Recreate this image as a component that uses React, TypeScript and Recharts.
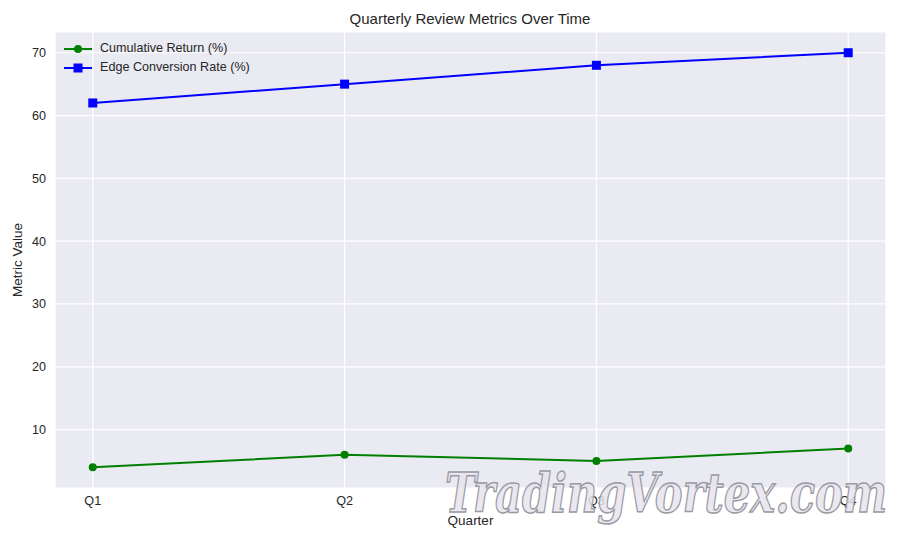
import React from 'react';
import { LineChart, Line, XAxis, YAxis, CartesianGrid } from 'recharts';

const quarters = ['Q1', 'Q2', 'Q3', 'Q4'];
const cumulativeReturn = [4, 6, 5, 7];
const edgeConversion = [62, 65, 68, 70];
const yTicks = [10, 20, 30, 40, 50, 60, 70];
const seriesNames = ['Cumulative Return (%)', 'Edge Conversion Rate (%)'];

const data = quarters.map((q, i) => ({
  x: i + 1,
  quarter: q,
  cum: cumulativeReturn[i],
  edge: edgeConversion[i],
}));

const FONT = '"Liberation Sans", Arial, sans-serif';
const TXT = '#262626';

const SquareDot = (props: any) => {
  const { cx, cy } = props;
  if (cx == null || cy == null) return null;
  return <rect x={cx - 4.5} y={cy - 4.5} width={9} height={9} fill="#0000FF" />;
};

const LegendBox = () => (
  <div
    style={{
      position: 'absolute',
      left: 64,
      top: 39,
      fontFamily: FONT,
      fontSize: 12.6,
      color: TXT,
      lineHeight: '19px',
    }}
  >
    {[
      { name: seriesNames[0], color: '#008000', shape: 'circle' },
      { name: seriesNames[1], color: '#0000FF', shape: 'square' },
    ].map((it) => (
      <div key={it.name} style={{ display: 'flex', alignItems: 'center' }}>
        <svg width={28} height={12} style={{ marginRight: 8 }}>
          <line x1={0} y1={6} x2={28} y2={6} stroke={it.color} strokeWidth={2} />
          {it.shape === 'circle' ? (
            <circle cx={14} cy={6} r={4} fill={it.color} />
          ) : (
            <rect x={9.5} y={1.5} width={9} height={9} fill={it.color} />
          )}
        </svg>
        <span>{it.name}</span>
      </div>
    ))}
  </div>
);

const App = () => {
  return (
    <div style={{ position: 'absolute', left: 0, top: 0, width: 900, height: 540, background: '#fff' }}>
      <div
        style={{
          position: 'absolute',
          top: 10,
          left: 0,
          width: 940,
          textAlign: 'center',
          fontFamily: FONT,
          fontSize: 15,
          color: TXT,
        }}
      >
        Quarterly Review Metrics Over Time
      </div>
      <LineChart
        width={900}
        height={540}
        data={data}
        margin={{ top: 32, right: 14, left: 0, bottom: 0 }}
      >
        <CartesianGrid stroke="#FFFFFF" strokeWidth={1.2} fill="#EAEAF2" fillOpacity={1} />
        <XAxis
          dataKey="x"
          type="number"
          domain={[0.85, 4.15]}
          allowDataOverflow
          ticks={[1, 2, 3, 4]}
          tickFormatter={(v: number) => quarters[v - 1]}
          axisLine={false}
          tickLine={false}
          height={52}
          tick={{ fill: TXT, fontSize: 12.6, fontFamily: FONT }}
          tickMargin={2}
          label={{ value: 'Quarter', position: 'insideBottom', offset: 15, fill: TXT, fontSize: 13.5, fontFamily: FONT }}
        />
        <YAxis
          type="number"
          domain={[0.7, 73.3]}
          allowDataOverflow
          ticks={yTicks}
          axisLine={false}
          tickLine={false}
          width={55}
          tick={{ fill: TXT, fontSize: 12.6, fontFamily: FONT }}
          tickMargin={3}
          label={{ value: 'Metric Value', angle: -90, position: 'insideLeft', offset: 17, fill: TXT, fontSize: 13.5, fontFamily: FONT, style: { textAnchor: 'middle' } }}
        />
        <Line
          dataKey="cum"
          name={seriesNames[0]}
          stroke="#008000"
          strokeWidth={2}
          dot={{ r: 4, fill: '#008000', stroke: '#008000', strokeWidth: 0 }}
          activeDot={false}
          isAnimationActive={false}
        />
        <Line
          dataKey="edge"
          name={seriesNames[1]}
          stroke="#0000FF"
          strokeWidth={2}
          dot={<SquareDot />}
          activeDot={false}
          isAnimationActive={false}
        />
      </LineChart>
      <LegendBox />
      <svg width={900} height={540} style={{ position: 'absolute', left: 0, top: 0, pointerEvents: 'none' }}>
        <text
          x={445}
          y={512}
          textLength={442}
          lengthAdjust="spacingAndGlyphs"
          fontFamily='"DejaVu Serif", serif'
          fontStyle="italic"
          fontWeight="bold"
          fontSize={54}
          fill="#E8E4EE"
          fillOpacity={0.85}
          stroke="#9A9AA4"
          strokeWidth={1.5}
        >
          TradingVortex.com
        </text>
      </svg>
    </div>
  );
};

export default App;
